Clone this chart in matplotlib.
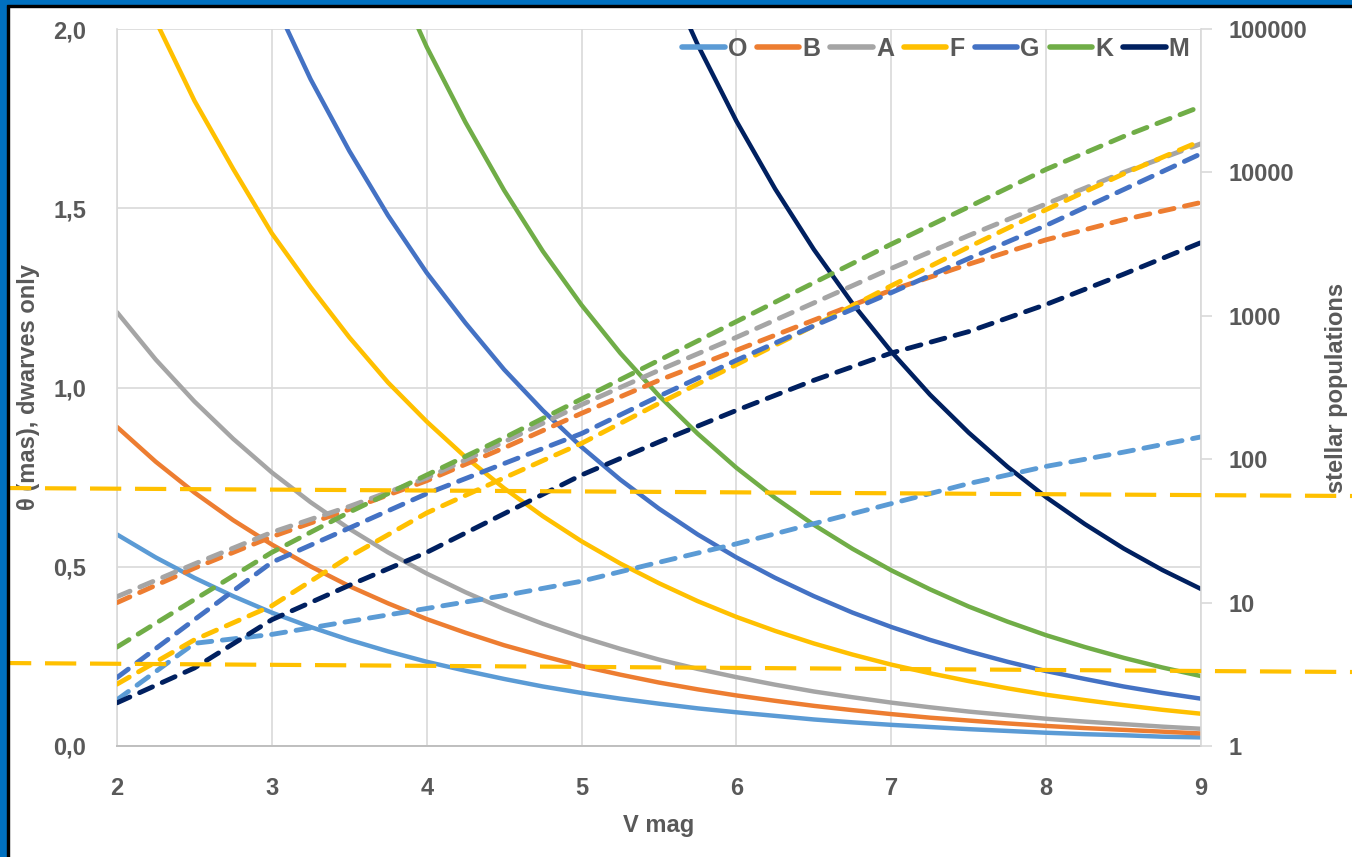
import matplotlib
matplotlib.use('Agg')
import matplotlib.pyplot as plt
from matplotlib.lines import Line2D
from matplotlib.patches import Rectangle

# V magnitude sample points (finer for the steep diameter curves)
v_fine = [2.0, 2.25, 2.5, 2.75, 3.0, 3.25, 3.5, 3.75, 4.0, 4.25, 4.5, 4.75, 5.0, 5.25, 5.5,
          5.75, 6.0, 6.25, 6.5, 6.75, 7.0, 7.25, 7.5, 7.75, 8.0, 8.25, 8.5, 8.75, 9.0]
v_mag = [2.0, 2.5, 3.0, 3.5, 4.0, 4.5, 5.0, 5.5, 6.0, 6.5, 7.0, 7.5, 8.0, 8.5, 9.0]

spectral_types = ['O', 'B', 'A', 'F', 'G', 'K', 'M']
type_colors = ['#5B9BD5', '#ED7D31', '#A5A5A5', '#FFC000', '#4472C4', '#70AD47', '#002060']

# angular diameter (mas), dwarves only - left axis
theta_O = [0.59, 0.526, 0.469, 0.418, 0.372, 0.332, 0.296, 0.264, 0.235, 0.210, 0.187, 0.166, 0.148, 0.132, 0.118,
           0.105, 0.094, 0.084, 0.074, 0.066, 0.059, 0.053, 0.047, 0.042, 0.037, 0.033, 0.030, 0.026, 0.024]
theta_B = [0.89, 0.793, 0.707, 0.630, 0.562, 0.501, 0.446, 0.398, 0.354, 0.316, 0.281, 0.251, 0.223, 0.199, 0.177,
           0.158, 0.141, 0.126, 0.112, 0.100, 0.089, 0.079, 0.071, 0.063, 0.056, 0.050, 0.045, 0.040, 0.035]
theta_A = [1.21, 1.078, 0.961, 0.857, 0.763, 0.680, 0.606, 0.540, 0.481, 0.429, 0.382, 0.341, 0.304, 0.271, 0.241,
           0.215, 0.192, 0.171, 0.152, 0.136, 0.121, 0.108, 0.096, 0.086, 0.076, 0.068, 0.061, 0.054, 0.048]
theta_F = [2.27, 2.023, 1.80, 1.61, 1.43, 1.28, 1.14, 1.014, 0.905, 0.806, 0.719, 0.641, 0.571, 0.509, 0.454,
           0.404, 0.360, 0.321, 0.286, 0.255, 0.227, 0.203, 0.181, 0.161, 0.143, 0.128, 0.114, 0.101, 0.090]
theta_G = [3.31, 2.95, 2.63, 2.34, 2.09, 1.86, 1.66, 1.48, 1.32, 1.18, 1.05, 0.936, 0.834, 0.743, 0.662,
           0.590, 0.526, 0.469, 0.418, 0.372, 0.332, 0.296, 0.264, 0.235, 0.209, 0.187, 0.166, 0.148, 0.132]
theta_K = [4.90, 4.37, 3.89, 3.47, 3.09, 2.76, 2.46, 2.19, 1.95, 1.74, 1.55, 1.38, 1.23, 1.096, 0.977,
           0.871, 0.776, 0.692, 0.617, 0.550, 0.490, 0.437, 0.389, 0.347, 0.309, 0.276, 0.246, 0.219, 0.195]
theta_M = [11.0, 9.80, 8.74, 7.79, 6.94, 6.19, 5.51, 4.91, 4.38, 3.90, 3.48, 3.10, 2.76, 2.46, 2.195,
           1.956, 1.743, 1.554, 1.385, 1.234, 1.10, 0.980, 0.874, 0.779, 0.694, 0.619, 0.551, 0.491, 0.438]

# stellar populations (counts) - right axis, log
count_O = [2.1, 5.2, 6.0, 7.4, 9.1, 11.2, 14.1, 19.1, 25.7, 35.5, 49, 67.6, 89.1, 112, 143]
count_B = [10, 17.4, 28.8, 44.7, 70.8, 120, 209, 355, 575, 933, 1510, 2290, 3390, 4680, 6170]
count_A = [11, 18.6, 30.9, 46.8, 74, 132, 240, 417, 708, 1230, 2140, 3630, 6030, 10000, 15850]
count_F = [2.7, 5.5, 9.5, 20.9, 42.2, 74.1, 129, 245, 457, 851, 1620, 3020, 5500, 9770, 16600]
count_G = [3.0, 7.6, 19.1, 33.1, 57.5, 93.3, 151, 275, 490, 851, 1450, 2510, 4270, 7590, 13500]
count_K = [4.9, 10.5, 22.4, 42.7, 77.6, 141, 263, 490, 912, 1700, 3160, 5750, 10500, 17800, 28800]
count_M = [2.0, 3.5, 7.6, 13.2, 22.4, 41.7, 77.6, 132, 219, 355, 550, 776, 1200, 1950, 3240]

theta_series = [theta_O, theta_B, theta_A, theta_F, theta_G, theta_K, theta_M]
count_series = [count_O, count_B, count_A, count_F, count_G, count_K, count_M]

left_ticks = [0.0, 0.5, 1.0, 1.5, 2.0]
left_labels = ['0,0', '0,5', '1,0', '1,5', '2,0']
right_ticks = [1, 10, 100, 1000, 10000, 100000]
right_labels = ['1', '10', '100', '1000', '10000', '100000']
x_ticks = [2, 3, 4, 5, 6, 7, 8, 9]

TXT = '#595959'
GRID = '#D9D9D9'
plt.rcParams['font.family'] = ['Liberation Sans', 'DejaVu Sans']
plt.rcParams['font.weight'] = 'bold'

W, H = 1352, 857
fig = plt.figure(figsize=(W / 100, H / 100), dpi=100)
ax = fig.add_axes([117 / W, 1 - 746 / H, (1201 - 117) / W, (746 - 29) / H])

for vals, col in zip(theta_series, type_colors):
    ax.plot(v_fine, vals, color=col, lw=3.2, solid_capstyle='round')

ax.set_xlim(2, 9)
ax.set_ylim(0, 2)
ax.set_xticks(x_ticks)
ax.set_yticks(left_ticks)
ax.set_yticklabels(left_labels)
ax.grid(True, color=GRID, lw=1.2)
ax.set_axisbelow(True)
ax.tick_params(axis='both', length=0, labelsize=17, labelcolor=TXT)
ax.tick_params(axis='y', pad=22)
ax.tick_params(axis='x', pad=22)
for s in ['top', 'right']:
    ax.spines[s].set_visible(False)
ax.spines['left'].set_color(GRID)
ax.spines['bottom'].set_color('#BFBFBF')
ax.spines['left'].set_linewidth(1.2)
ax.spines['bottom'].set_linewidth(1.4)

ax.set_xlabel('V mag', fontsize=17, color=TXT, fontweight='bold')
ax.xaxis.set_label_coords(0.5, -0.095)
ax.set_ylabel('θ (mas), dwarves only', fontsize=17, color=TXT, fontweight='bold')
ax.yaxis.set_label_coords(-0.071, 0.5)

ax2 = ax.twinx()
for vals, col in zip(count_series, type_colors):
    ax2.plot(v_mag, vals, color=col, lw=3.5, ls=(0, (2.9, 2.2)), dash_capstyle='round')
ax2.set_yscale('log')
ax2.set_ylim(1, 100000)
ax2.set_xlim(2, 9)
ax2.set_yticks(right_ticks)
ax2.set_yticklabels(right_labels)
ax2.yaxis.set_minor_locator(matplotlib.ticker.NullLocator())
ax2.tick_params(axis='y', length=8, width=1.2, color=GRID, labelsize=17, labelcolor=TXT, pad=12)
for s in ['top', 'left', 'bottom']:
    ax2.spines[s].set_visible(False)
ax2.spines['right'].set_color(GRID)
ax2.spines['right'].set_linewidth(1.2)
ax2.set_ylabel('stellar populations', fontsize=17, color=TXT, fontweight='bold', rotation=90)
ax2.yaxis.set_label_coords(1.114, 0.5)

handles = [Line2D([0], [0], color=c, lw=4, solid_capstyle='round') for c in type_colors]
leg = ax2.legend(handles, spectral_types, loc='upper right', bbox_to_anchor=(1.003, 1.01), ncol=7,
                 frameon=False, fontsize=18, handlelength=1.7, handletextpad=0.12,
                 columnspacing=0.4, borderaxespad=0.2)
for t in leg.get_texts():
    t.set_color(TXT)
    t.set_fontweight('bold')

# hand-drawn guide lines across the whole picture
for y0, y1 in [(488, 496), (663, 672)]:
    fig.add_artist(Line2D([0, 1], [1 - y0 / H, 1 - y1 / H], transform=fig.transFigure,
                          color='#FFC000', lw=3.0, ls=(0, (7.5, 3.3)), zorder=10))

# frame (blue with black inner line), left and top only
fig.add_artist(Rectangle((0, 0), 7 / W, 1, transform=fig.transFigure, color='#0070C0', zorder=11))
fig.add_artist(Rectangle((7 / W, 0), 2 / W, 1 - 7 / H, transform=fig.transFigure, color='black', zorder=11))
fig.add_artist(Rectangle((0, 1 - 5 / H), 1, 5 / H, transform=fig.transFigure, color='#0070C0', zorder=11))
fig.add_artist(Rectangle((7 / W, 1 - 7 / H), 1, 2 / H, transform=fig.transFigure, color='black', zorder=11))

fig.savefig('out.png', dpi=100)
